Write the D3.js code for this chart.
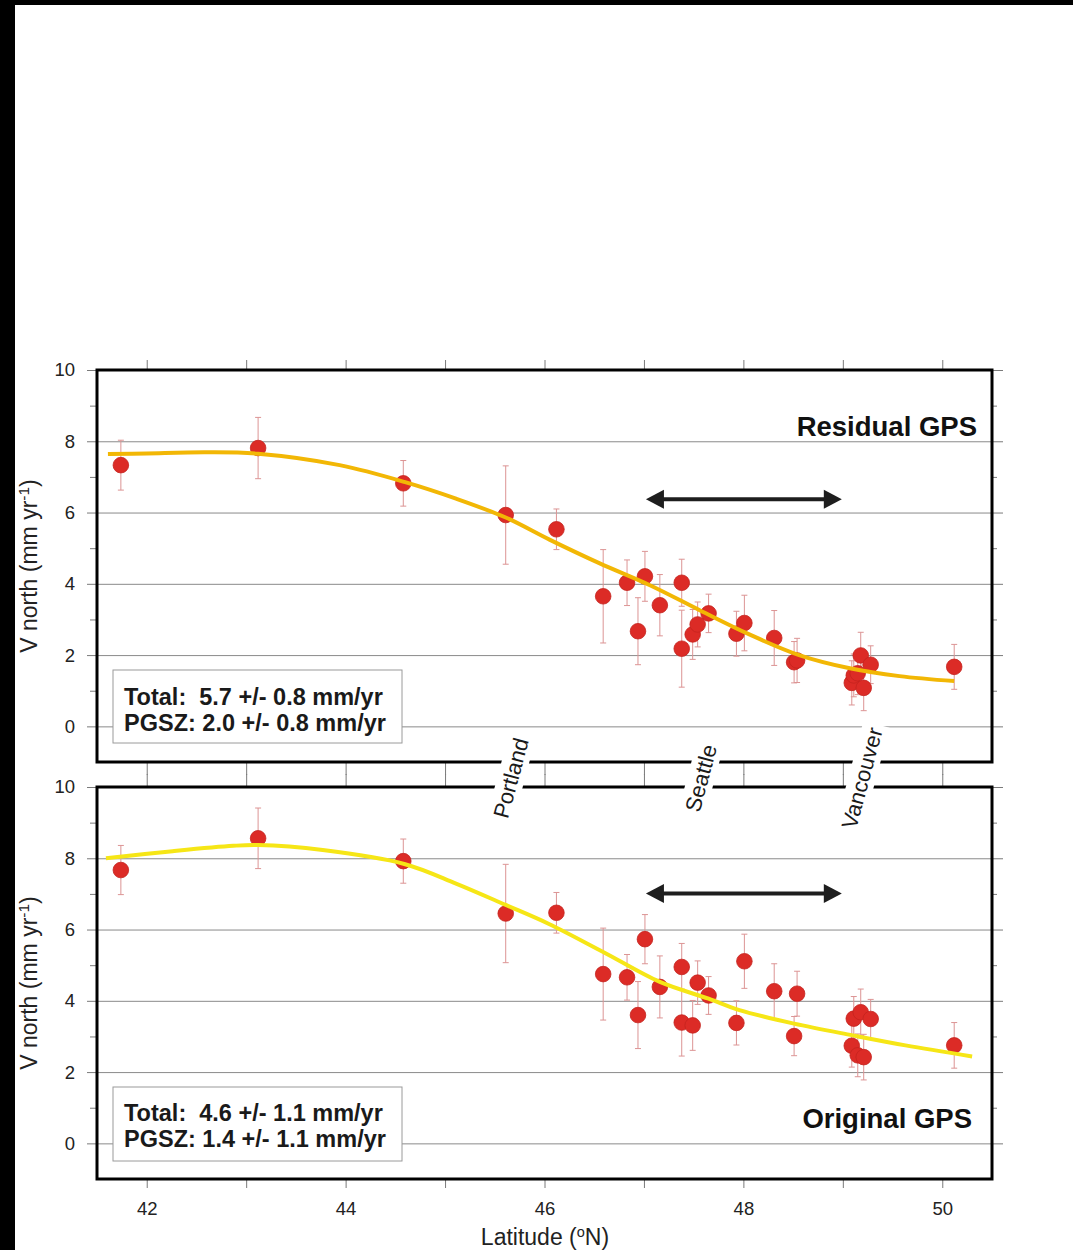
<!DOCTYPE html>
<html>
<head>
<meta charset="utf-8">
<script src="https://cdn.jsdelivr.net/npm/d3@7"></script>
<style>
  body { margin: 0; background: #fff; }
  svg { display: block; font-family: "Liberation Sans", Arial, Helvetica, sans-serif; }
  .pre { white-space: pre; }
</style>
</head>
<body>
<svg id="chart" width="1073" height="1250"></svg>
<script>
// GPS stations: latitude (°N) and northward velocity (mm/yr) with 1-sigma errors
const latitude = [41.74, 43.12, 44.58, 45.61, 46.12, 46.59, 46.83, 46.94, 47.01, 47.16,
                  47.38, 47.38, 47.49, 47.54, 47.65, 47.93, 48.01, 48.31, 48.51, 48.54,
                  49.09, 49.11, 49.15, 49.18, 49.21, 49.28, 50.12];

const vResidual   = [7.33, 7.81, 6.82, 5.93, 5.53, 3.65, 4.03, 2.67, 4.21, 3.40,
                     4.03, 2.18, 2.58, 2.86, 3.17, 2.60, 2.90, 2.48, 1.80, 1.85,
                     1.22, 1.43, 1.49, 1.99, 1.08, 1.73, 1.67];
const errResidual = [0.70, 0.86, 0.64, 1.38, 0.57, 1.31, 0.64, 0.94, 0.70, 0.86,
                     0.66, 1.08, 0.70, 0.63, 0.54, 0.63, 0.78, 0.77, 0.58, 0.62,
                     0.62, 0.60, 0.60, 0.65, 0.64, 0.53, 0.63];

const vOriginal   = [7.67, 8.56, 7.92, 6.45, 6.47, 4.75, 4.66, 3.60, 5.73, 4.39,
                     4.95, 3.39, 3.31, 4.51, 4.15, 3.38, 5.11, 4.27, 3.01, 4.20,
                     2.74, 3.50, 2.47, 3.68, 2.42, 3.49, 2.75];
const errOriginal = [0.69, 0.85, 0.62, 1.38, 0.57, 1.29, 0.64, 0.94, 0.69, 0.87,
                     0.66, 0.94, 0.70, 0.61, 0.53, 0.62, 0.76, 0.77, 0.55, 0.63,
                     0.60, 0.62, 0.60, 0.65, 0.64, 0.55, 0.64];

// Best-fit velocity profiles
const fitLatResidual = [41.61, 42.0, 42.6, 43.12, 43.94, 44.59, 45.11, 45.61, 46.05,
                        46.55, 47.06, 47.56, 48.06, 48.56, 49.07, 49.57, 50.12];
const fitResidual    = [7.64, 7.66, 7.69, 7.65, 7.33, 6.86, 6.39, 5.86, 5.24,
                        4.58, 3.96, 3.26, 2.58, 2.0, 1.63, 1.41, 1.27];

const fitLatOriginal = [41.59, 42.26, 42.87, 43.12, 43.77, 44.59, 45.11, 45.61, 46.05,
                        46.59, 47.16, 47.65, 47.96, 48.51, 49.1, 49.63, 50.3];
const fitOriginal    = [8.00, 8.20, 8.35, 8.37, 8.23, 7.84, 7.29, 6.69, 6.15,
                        5.37, 4.53, 4.06, 3.74, 3.36, 3.03, 2.75, 2.44];

// Axis ticks
const yMajorTicks = [0, 2, 4, 6, 8, 10];
const yMinorTicks = [1, 3, 5, 7, 9];
const yGridTicks  = [0, 2, 4, 6, 8];
const xAllTicks   = [42, 43, 44, 45, 46, 47, 48, 49, 50];
const xLabelTicks = [42, 44, 46, 48, 50];

// Cities along the margin
const cities   = ["Portland", "Seattle", "Vancouver"];
const cityLat  = [45.66, 47.57, 49.19];

// Double arrow span (latitude) and its height in each panel
const arrowLat = [47.02, 48.99];
const arrowV   = [6.37, 7.01];

const panelTitles = ["Residual GPS", "Original GPS"];
const totalText   = ["Total:  5.7 +/- 0.8 mm/yr", "Total:  4.6 +/- 1.1 mm/yr"];
const pgszText    = ["PGSZ: 2.0 +/- 0.8 mm/yr", "PGSZ: 1.4 +/- 1.1 mm/yr"];

// ---------------------------------------------------------------------------
const svg = d3.select("#chart");
const W = 1073, H = 1250;

svg.append("rect").attr("width", W).attr("height", H).attr("fill", "#fff");
svg.append("rect").attr("x", 0).attr("y", 0).attr("width", 15).attr("height", H).attr("fill", "#000");
svg.append("rect").attr("x", 0).attr("y", 0).attr("width", W).attr("height", 5).attr("fill", "#000");

const left = 97, right = 992;
const x = d3.scaleLinear().domain([41.5, 50.5]).range([left, right]);

const panels = [
  { top: 370, bottom: 762, v: vResidual, err: errResidual, fitLat: fitLatResidual, fit: fitResidual,
    fitColor: "#f2b705", title: panelTitles[0], titleX: 977, titleY: 436,
    box: [113, 670, 289, 73], total: totalText[0], pgsz: pgszText[0], textY: [705, 731],
    arrowV: arrowV[0], topTick: 10, bottomTick: 13, xLabels: false },
  { top: 787, bottom: 1179, v: vOriginal, err: errOriginal, fitLat: fitLatOriginal, fit: fitOriginal,
    fitColor: "#f6e616", title: panelTitles[1], titleX: 972, titleY: 1128,
    box: [113, 1087, 289, 74], total: totalText[1], pgsz: pgszText[1], textY: [1121, 1147],
    arrowV: arrowV[1], topTick: 13, bottomTick: 9, xLabels: true }
];

const gridColor = "#8a8a8a";
const tickColor = "#7a7a7a";

function styleAxis(g) {
  g.select(".domain").remove();
  g.selectAll(".tick line").attr("stroke", tickColor).attr("stroke-width", 1);
  g.selectAll(".tick text").attr("fill", "#222").attr("font-size", 18.5)
    .attr("font-family", '"Liberation Sans", Arial, sans-serif');
}

panels.forEach((p, pi) => {
  const y = d3.scaleLinear().domain([-1, 10]).range([p.bottom, p.top]);
  const g = svg.append("g");

  // horizontal grid
  g.append("g").attr("transform", `translate(${left},0)`)
    .call(d3.axisRight(y).tickValues(yGridTicks).tickSize(right - left).tickFormat(""))
    .call(styleAxis)
    .call(a => a.selectAll(".tick line").attr("stroke", gridColor));

  // left axis: major with labels, minor without
  g.append("g").attr("transform", `translate(${left},0)`)
    .call(d3.axisLeft(y).tickValues(yMajorTicks).tickSize(10).tickPadding(12))
    .call(styleAxis);
  g.append("g").attr("transform", `translate(${left},0)`)
    .call(d3.axisLeft(y).tickValues(yMinorTicks).tickSize(7).tickFormat(""))
    .call(styleAxis);

  // right axis
  g.append("g").attr("transform", `translate(${right},0)`)
    .call(d3.axisRight(y).tickValues(yMajorTicks).tickSize(11).tickFormat(""))
    .call(styleAxis);
  g.append("g").attr("transform", `translate(${right},0)`)
    .call(d3.axisRight(y).tickValues(yMinorTicks).tickSize(5).tickFormat(""))
    .call(styleAxis);

  // top and bottom latitude ticks
  g.append("g").attr("transform", `translate(0,${p.top})`)
    .call(d3.axisTop(x).tickValues(xAllTicks).tickSize(p.topTick).tickFormat(""))
    .call(styleAxis);
  g.append("g").attr("transform", `translate(0,${p.bottom})`)
    .call(d3.axisBottom(x).tickValues(xAllTicks).tickSize(p.bottomTick).tickPadding(14)
      .tickFormat(d => (p.xLabels && xLabelTicks.includes(d)) ? d : ""))
    .call(styleAxis);

  // y-axis title
  const yt = g.append("text")
    .attr("transform", `translate(37,${(p.top + p.bottom) / 2}) rotate(-90)`)
    .attr("text-anchor", "middle").attr("font-size", 23).attr("fill", "#222");
  yt.append("tspan").text("V north (mm yr");
  yt.append("tspan").attr("font-size", 15.5).attr("dy", -8).text("-1");
  yt.append("tspan").attr("dy", 8).text(")");

  // statistics box
  g.append("rect").attr("x", p.box[0]).attr("y", p.box[1])
    .attr("width", p.box[2]).attr("height", p.box[3])
    .attr("fill", "#fff").attr("stroke", "#9a9a9a").attr("stroke-width", 1);
  g.append("text").attr("class", "pre").attr("x", 124).attr("y", p.textY[0])
    .attr("font-size", 23.5).attr("font-weight", "bold").attr("fill", "#1a1a1a").text(p.total);
  g.append("text").attr("class", "pre").attr("x", 124).attr("y", p.textY[1])
    .attr("font-size", 23.5).attr("font-weight", "bold").attr("fill", "#1a1a1a").text(p.pgsz);

  // panel title
  g.append("text").attr("x", p.titleX).attr("y", p.titleY)
    .attr("text-anchor", "end").attr("font-size", 27.5).attr("font-weight", "bold")
    .attr("fill", "#111").text(p.title);

  // station data
  const pts = latitude.map((lat, i) => ({ lat, v: p.v[i], e: p.err[i] }));
  const eb = g.append("g").attr("stroke", "#dc9494").attr("stroke-width", 1).attr("fill", "none");
  pts.forEach(d => {
    const cx = x(d.lat);
    eb.append("line").attr("x1", cx).attr("x2", cx).attr("y1", y(d.v - d.e)).attr("y2", y(d.v + d.e));
    eb.append("line").attr("x1", cx - 3).attr("x2", cx + 3).attr("y1", y(d.v - d.e)).attr("y2", y(d.v - d.e));
    eb.append("line").attr("x1", cx - 3).attr("x2", cx + 3).attr("y1", y(d.v + d.e)).attr("y2", y(d.v + d.e));
  });
  g.append("g").selectAll("circle").data(pts).join("circle")
    .attr("cx", d => x(d.lat)).attr("cy", d => y(d.v)).attr("r", 7.8)
    .attr("fill", "#dc2b26").attr("stroke", "#c4231e").attr("stroke-width", 0.8);

  // fitted profile
  const fitPts = p.fitLat.map((lat, i) => [lat, p.fit[i]]);
  g.append("path").datum(fitPts)
    .attr("d", d3.line().x(d => x(d[0])).y(d => y(d[1])).curve(d3.curveCatmullRom))
    .attr("fill", "none").attr("stroke", p.fitColor).attr("stroke-width", 4)
    .attr("stroke-linecap", "butt");

  // double-headed arrow
  const ax0 = x(arrowLat[0]), ax1 = x(arrowLat[1]), ay = y(p.arrowV);
  const hl = 18, hh = 9.5;
  g.append("line").attr("x1", ax0 + hl - 2).attr("x2", ax1 - hl + 2).attr("y1", ay).attr("y2", ay)
    .attr("stroke", "#1e1e1e").attr("stroke-width", 4);
  g.append("path").attr("d", `M${ax0},${ay}L${ax0 + hl},${ay - hh}L${ax0 + hl},${ay + hh}Z`).attr("fill", "#1e1e1e");
  g.append("path").attr("d", `M${ax1},${ay}L${ax1 - hl},${ay - hh}L${ax1 - hl},${ay + hh}Z`).attr("fill", "#1e1e1e");

  // frame
  g.append("rect").attr("x", left).attr("y", p.top).attr("width", right - left).attr("height", p.bottom - p.top)
    .attr("fill", "none").attr("stroke", "#000").attr("stroke-width", 3);
});

// latitude axis title
const xt = svg.append("text").attr("x", 545).attr("y", 1245).attr("text-anchor", "middle")
  .attr("font-size", 23).attr("fill", "#222");
xt.append("tspan").text("Latitude (");
xt.append("tspan").attr("font-size", 14.5).attr("dy", -8).text("o");
xt.append("tspan").attr("dy", 8).text("N)");

// city names between the panels
const cityG = svg.append("g");
cities.forEach((name, i) => {
  const cg = cityG.append("g").attr("transform", `translate(${x(cityLat[i])},778) rotate(-75)`);
  const bgRect = cg.append("rect").attr("fill", "#fff");
  const t = cg.append("text").attr("text-anchor", "middle").attr("dy", "0.36em")
    .attr("font-size", 22).attr("fill", "#1a1a1a").text(name);
  const bb = t.node().getBBox();
  bgRect.attr("x", bb.x - 4).attr("y", bb.y - 1).attr("width", bb.width + 8).attr("height", bb.height + 2);
});
</script>
</body>
</html>
